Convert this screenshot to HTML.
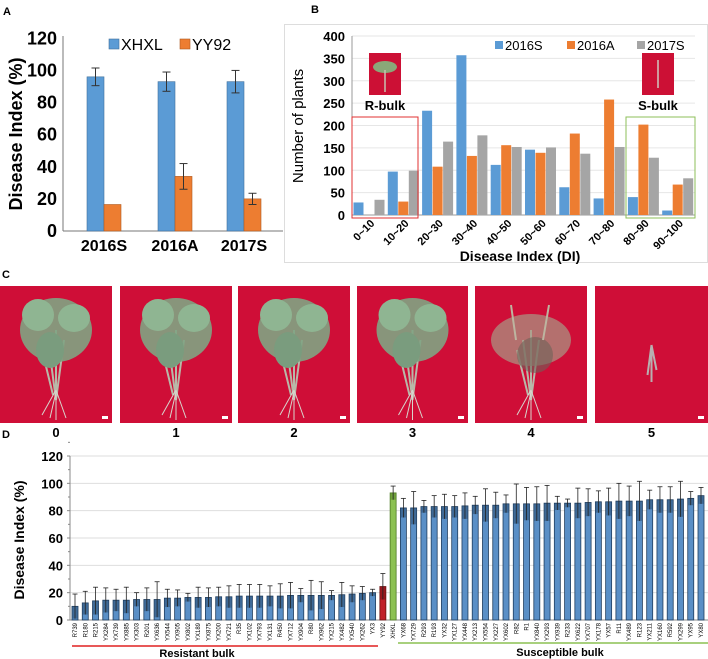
<!DOCTYPE html>
<html><head><meta charset="utf-8"><style>
html,body{margin:0;padding:0;background:#fff;}
svg{display:block;font-family:"Liberation Sans",Arial,sans-serif;}
</style></head><body>
<svg id="fig" width="708" height="659" viewBox="0 0 708 659" xmlns="http://www.w3.org/2000/svg">
<g id="pa"></g>
<g id="pb"></g>
<g id="pc"></g>
<g id="pd"></g>
</svg>
<script>
// Panel A data
const aCats = ["2016S","2016A","2017S"];
const aXHXL = [96, 93, 93];
const aXHXLerr = [5.5, 6, 7];
const aYY92 = [16.5, 34, 20];
const aYY92err = [0, 8, 3.5];
const aTicks = [0,20,40,60,80,100,120];
// Panel B data
const bCats = ["0~10","10~20","20~30","30~40","40~50","50~60","60~70","70~80","80~90","90~100"];
const b2016S = [28,97,233,357,112,146,62,37,40,10];
const b2016A = [0,30,108,132,156,139,182,258,202,68];
const b2017S = [34,99,164,178,152,151,137,152,128,82];
const bTicks = [0,50,100,150,200,250,300,350,400];
// Panel D data
const dNames = ["R739","R180","R215","YX284","YX739","YX885","YX303","R201","YX636","YX544","YX905","YX802","YX189","YX875","YX200","YX721","R35","YX102","YX793","YX131","R450","YX712","YX904","R80","YX962","YX215","YX482","YX540","YX262","YX3","YY92","XHXL","YX68","YX729","R293","R193","YX32","YX127","YX448","YX213","YX554","YX227","YX602","R82","R1","YX840","YX293","YX939","R233","YX622","YX707","YX178","YX57","R11","YX489","R123","YX211","YX160","R592","YX299","YX95","YX80"];
const dValues = [10,12.5,14,14.5,14.5,14.5,15,15,15,16,16,16.5,16.5,16.5,17,17,17.5,17.5,17.5,17.5,17.5,18,18,18,18,18,18.5,19,19.5,20,24.5,93,82,82,83,83,83,83,83.5,84,84,84,85,85,85,85,85.5,85.5,85.5,85.5,86,86.5,86.5,87,87,87,88,88,88,88.5,89,91];
const dErrors = [9,8.5,10,9,8,9.5,5,8.5,13,6.5,6,3,7.5,7,7,8,8.5,8.5,8.5,7.5,9,9.5,5,11,10,3.5,9,6,5,2.5,9.5,5,7,12,4.5,8,9,8,9.5,6.5,12,9.5,6.5,14.5,12,12.5,13,5,3,11,10,8,10,13,11,14.5,7,9.5,9.5,13,5,6];
const dTicks = [0,20,40,60,80,100,120];

const NS="http://www.w3.org/2000/svg";
function mk(parent,tag,attrs,text){const e=document.createElementNS(NS,tag);for(const k in attrs)e.setAttribute(k,attrs[k]);if(text!==undefined)e.textContent=text;parent.appendChild(e);return e;}

// ---------- Panel A ----------
(function(){
const g=document.getElementById('pa');
const y=v=>231-v*(231-38.3)/120;
const cx=[104,175,244];
let t=mk(g,'text',{x:3,y:15,'font-size':11,'font-weight':'bold'},'A');


aTicks.forEach(v=>{
 let tl=mk(g,'text',{x:57,y:y(v)+6,'font-size':18,'font-weight':'bold','text-anchor':'end'},v);
 
 
});
mk(g,'line',{x1:63,y1:231,x2:283,y2:231,stroke:'#777','stroke-width':1});
mk(g,'line',{x1:63,y1:36,x2:63,y2:231,stroke:'#777','stroke-width':1});
aCats.forEach((c,i)=>{
 let b=mk(g,'rect',{x:cx[i]-17,y:y(aXHXL[i]),width:17,height:231-y(aXHXL[i]),fill:'#5b9bd5',stroke:'#41719c','stroke-width':0.6});
 
 
 let o=mk(g,'rect',{x:cx[i],y:y(aYY92[i]),width:17,height:231-y(aYY92[i]),fill:'#ed7d31',stroke:'#ae5a21','stroke-width':0.6});
 
 
 [[cx[i]-8.5,aXHXL[i],aXHXLerr[i]],[cx[i]+8.5,aYY92[i],aYY92err[i]]].forEach(([x,v,e])=>{
  if(e<=0)return;
  mk(g,'line',{x1:x,y1:y(v-e),x2:x,y2:y(v+e),stroke:'#333','stroke-width':1});
  mk(g,'line',{x1:x-4,y1:y(v+e),x2:x+4,y2:y(v+e),stroke:'#333','stroke-width':1});
  mk(g,'line',{x1:x-4,y1:y(v-e),x2:x+4,y2:y(v-e),stroke:'#333','stroke-width':1});
 });
 let cl=mk(g,'text',{x:cx[i],y:251,'font-size':16,'font-weight':'bold','text-anchor':'middle'},c);
 
 
});
let yl=mk(g,'text',{x:0,y:0,'font-size':18,'font-weight':'bold','text-anchor':'middle',transform:'translate(22,134) rotate(-90)'},'Disease Index (%)');


let lg=mk(g,'g',{});


mk(lg,'rect',{x:109,y:39,width:10,height:10,fill:'#5b9bd5',stroke:'#41719c','stroke-width':0.6});
mk(lg,'text',{x:121,y:50,'font-size':16},'XHXL');
mk(lg,'rect',{x:180,y:39,width:10,height:10,fill:'#ed7d31',stroke:'#ae5a21','stroke-width':0.6});
mk(lg,'text',{x:192,y:50,'font-size':16},'YY92');
})();

// ---------- Panel B ----------
(function(){
const g=document.getElementById('pb');
const y0=215, yTop=36;
const y=v=>y0-v*(y0-yTop)/400;
const x0=352, cw=34.3;
let t=mk(g,'text',{x:311,y:13,'font-size':11,'font-weight':'bold'},'B');


mk(g,'rect',{x:284.5,y:24.5,width:423,height:238,fill:'none',stroke:'#ddd','stroke-width':1});
bTicks.forEach(v=>{
 if(v>0)mk(g,'line',{x1:x0,y1:y(v),x2:695,y2:y(v),stroke:'#e6e6e6','stroke-width':1});
 let tl=mk(g,'text',{x:345,y:y(v)+5,'font-size':13,'font-weight':'bold','text-anchor':'end'},v);
 
 
});
mk(g,'line',{x1:x0,y1:y0,x2:695,y2:y0,stroke:'#999'});
mk(g,'line',{x1:x0,y1:36,x2:x0,y2:y0,stroke:'#999'});
const series=[[b2016S,'#5b9bd5','b-bar-2016s'],[b2016A,'#ed7d31','b-bar-2016a'],[b2017S,'#a5a5a5','b-bar-2017s']];
bCats.forEach((c,i)=>{
 series.forEach(([arr,col,nm],j)=>{
  const v=arr[i]; if(v<=0)return;
  let r=mk(g,'rect',{x:x0+i*cw+1.5+j*10.5,y:y(v),width:10,height:y0-y(v),fill:col});
  
  
 });
 const cx=x0+i*cw+cw/2;
 let tl=mk(g,'text',{x:0,y:0,'font-size':11,'font-weight':'bold','text-anchor':'end',transform:`translate(${cx+6},${224}) rotate(-45)`},c);
 
 
});
let xt=mk(g,'text',{x:520,y:261,'font-size':14,'font-weight':'bold','text-anchor':'middle'},'Disease Index (DI)');


let yt=mk(g,'text',{x:0,y:0,'font-size':15,'text-anchor':'middle',transform:'translate(303,126) rotate(-90)'},'Number of plants');


let lg=mk(g,'g',{});


[['2016S','#5b9bd5',495],['2016A','#ed7d31',567],['2017S','#a5a5a5',637]].forEach(([n,c,x])=>{
 mk(lg,'rect',{x:x,y:41,width:8,height:8,fill:c});
 mk(lg,'text',{x:x+10,y:50,'font-size':13},n);
});
let rb=mk(g,'rect',{x:352,y:117,width:66,height:101,fill:'none',stroke:'#e03030','stroke-width':1});


let sb=mk(g,'rect',{x:626,y:117,width:69,height:101,fill:'none',stroke:'#8cbf5a','stroke-width':1});


let ri=mk(g,'g',{});


mk(ri,'rect',{x:369,y:53,width:32,height:42,fill:'#cc1035'});
mk(ri,'ellipse',{cx:385,cy:67,rx:12,ry:6,fill:'#8aa878'});
mk(ri,'line',{x1:385,y1:70,x2:385,y2:92,stroke:'#c8c0b0','stroke-width':1.5});
let si=mk(g,'g',{});


mk(si,'rect',{x:642,y:53,width:32,height:42,fill:'#cc1035'});
mk(si,'line',{x1:658,y1:60,x2:658,y2:88,stroke:'#d0c8c0','stroke-width':1.5});
let r1=mk(g,'text',{x:385,y:110,'font-size':13,'font-weight':'bold','text-anchor':'middle'},'R-bulk');


let s1=mk(g,'text',{x:658,y:110,'font-size':13,'font-weight':'bold','text-anchor':'middle'},'S-bulk');


})();

// ---------- Panel C ----------
(function(){
const g=document.getElementById('pc');
let t=mk(g,'text',{x:2,y:278,'font-size':11,'font-weight':'bold'},'C');


const photos=[[0,112],[120,232],[238,350],[357,468],[475,587],[595,708]];
photos.forEach(([a,b],i)=>{
 const p=mk(g,'g',{});
 
 
 mk(p,'rect',{x:a,y:286,width:b-a,height:137,fill:'#cf0e37'});
 const cx=(a+b)/2;
 if(i<5){
  mk(p,'path',{d:`M${cx} 400 L${cx-8} 340 M${cx} 400 L${cx+8} 340 M${cx} 400 L${cx} 330 M${cx-3} 395 L${cx-14} 350`,stroke:'#b9b8a8','stroke-width':2,fill:'none'});
  mk(p,'path',{d:`M${cx} 390 L${cx-14} 415 M${cx} 390 L${cx+10} 418 M${cx} 390 L${cx} 420 M${cx} 392 L${cx-6} 418`,stroke:'#d8d4cc','stroke-width':1,fill:'none'});
  if(i<4){
   mk(p,'ellipse',{cx:cx,cy:330,rx:36,ry:32,fill:'#7fa483',opacity:0.9});
   mk(p,'ellipse',{cx:cx-18,cy:315,rx:16,ry:16,fill:'#8fb592'});
   mk(p,'ellipse',{cx:cx+18,cy:318,rx:16,ry:14,fill:'#8fb592'});
   mk(p,'ellipse',{cx:cx-6,cy:350,rx:14,ry:18,fill:'#7a9c7e'});
  } else {
   mk(p,'ellipse',{cx:cx,cy:340,rx:40,ry:26,fill:'#a89a86',opacity:0.7});
   mk(p,'ellipse',{cx:cx+4,cy:355,rx:18,ry:18,fill:'#6e6258',opacity:0.6});
   mk(p,'path',{d:`M${cx-15} 340 L${cx-20} 305 M${cx+12} 340 L${cx+18} 305`,stroke:'#bdb5a0','stroke-width':2,fill:'none'});
  }
 } else {
  mk(p,'path',{d:`M${cx} 345 L${cx-4} 375 M${cx} 345 L${cx+5} 370 M${cx} 345 L${cx} 382`,stroke:'#b8b0b0','stroke-width':2,fill:'none'});
 }
 mk(p,'rect',{x:b-10,y:416,width:6,height:3,fill:'#fff'});
 let l=mk(g,'text',{x:cx,y:437,'font-size':13,'font-weight':'bold','text-anchor':'middle'},i);
 
 
});
})();

// ---------- Panel D ----------
(function(){
const g=document.getElementById('pd');
const y0=620, yTop=456;
const y=v=>y0-v*(y0-yTop)/120;
const xFirst=75, step=(701-75)/61;
let t=mk(g,'text',{x:2,y:438,'font-size':11,'font-weight':'bold'},'D');


dTicks.forEach(v=>{
 if(v>0)mk(g,'line',{x1:70,y1:y(v),x2:708,y2:y(v),stroke:'#dedede','stroke-width':1});
 mk(g,'line',{x1:67,y1:y(v),x2:70,y2:y(v),stroke:'#888'});
 mk(g,'line',{x1:68,y1:y(v+10),x2:70,y2:y(v+10),stroke:'#888'});
 let tl=mk(g,'text',{x:63,y:y(v)+5,'font-size':13,'font-weight':'bold','text-anchor':'end'},v);
 
 
});
mk(g,'line',{x1:70,y1:456,x2:70,y2:y0,stroke:'#888'});
mk(g,'line',{x1:70,y1:y0,x2:708,y2:y0,stroke:'#888'});
dNames.forEach((n,i)=>{
 const cx=xFirst+i*step, v=dValues[i], e=dErrors[i];
 let fill='#5a8fc6', st='#1f3d5e';
 if(n==='YY92'){fill='#c0202a';st='#6a1010';}
 if(n==='XHXL'){fill='#8cc152';st='#4d7a22';}
 let r=mk(g,'rect',{x:cx-3,y:y(v),width:6,height:y0-y(v),fill:fill,stroke:st,'stroke-width':0.8});
 
 
 mk(g,'rect',{x:cx-2.5,y:y(v),width:5,height:Math.max(0,y(v-e)-y(v)),fill:st,opacity:0.45});
 mk(g,'line',{x1:cx,y1:y(v-e),x2:cx,y2:y(v+e),stroke:'#222','stroke-width':0.8});
 mk(g,'line',{x1:cx-2.5,y1:y(v+e),x2:cx+2.5,y2:y(v+e),stroke:'#222','stroke-width':0.8});
 let tl=mk(g,'text',{x:0,y:0,'font-size':6,'text-anchor':'end',transform:`translate(${cx+2},${623}) rotate(-90)`},n);
 
 
});
let yt=mk(g,'text',{x:0,y:0,'font-size':14,'font-weight':'bold','text-anchor':'middle',transform:'translate(24,540) rotate(-90)'},'Disease Index (%)');


let rl=mk(g,'line',{x1:72,y1:646,x2:378,y2:646,stroke:'#e02020','stroke-width':1.5});


let gl=mk(g,'line',{x1:398,y1:643,x2:708,y2:643,stroke:'#8cc152','stroke-width':1.5});


let rt=mk(g,'text',{x:197,y:657,'font-size':11,'font-weight':'bold','text-anchor':'middle'},'Resistant bulk');


let stt=mk(g,'text',{x:560,y:656,'font-size':11,'font-weight':'bold','text-anchor':'middle'},'Susceptible bulk');


})();
</script>
</body></html>
